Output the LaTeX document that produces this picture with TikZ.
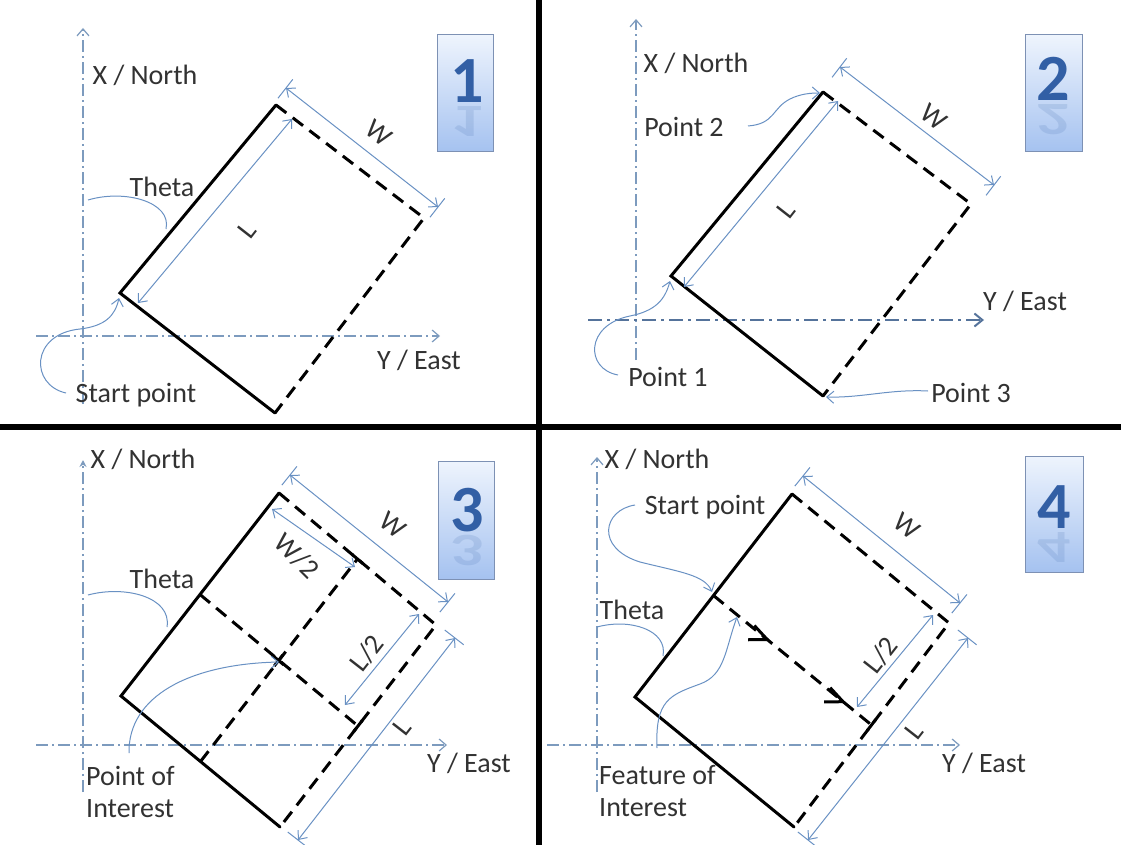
\documentclass[tikz,border=0pt]{standalone}
\usepackage{fontspec}
\setmainfont{Carlito}
\usetikzlibrary{calc,arrows.meta}
\definecolor{dimblue}{RGB}{105,145,195}
\definecolor{axisblue}{RGB}{125,155,190}
\definecolor{axisdark}{RGB}{85,115,155}
\definecolor{txtgray}{RGB}{50,50,50}
\definecolor{boxtop}{RGB}{238,244,253}
\definecolor{boxbot}{RGB}{165,194,240}
\definecolor{boxedge}{RGB}{125,145,180}
\definecolor{digitcol}{RGB}{50,95,165}
\tikzset{
  lbl/.style={font=\fontsize{28}{32}\selectfont, text=txtgray, inner sep=0pt},
  digit/.style={font=\fontsize{66}{66}\selectfont\bfseries, text=digitcol, inner sep=0pt, anchor=base},
  edgesolid/.style={line width=3pt, line cap=round},
  edgedash/.style={line width=3pt, dash pattern=on 13pt off 8pt},
  marktick/.style={line width=3pt},
  dim/.style={draw=dimblue, line width=1pt, {Straight Barb[length=7pt,width=12pt]}-{Straight Barb[length=7pt,width=12pt]}},
  ext/.style={draw=dimblue, line width=1pt},
  callout/.style={draw=dimblue, line width=1pt, -{Straight Barb[length=7pt,width=12pt]}},
  axisline/.style={draw=axisblue, line width=1.2pt, dash pattern=on 12pt off 4pt on 2pt off 4pt, -{Straight Barb[length=7pt,width=12pt]}},
  axisbold/.style={draw=axisdark, line width=2pt, dash pattern=on 14pt off 5pt on 3pt off 5pt, -{Straight Barb[length=8pt,width=13pt]}},
  numbox/.style={top color=boxtop, bottom color=boxbot, draw=boxedge, line width=1pt},
  divider/.style={line width=6pt, black}
}
\newcommand\ExtTicks[2]{%
  \draw[ext] ($(#1)!-13pt!90:(#2)$) -- ($(#1)!11pt!90:(#2)$);
  \draw[ext] ($(#2)!-13pt!-90:(#1)$) -- ($(#2)!11pt!-90:(#1)$);
}
\newcommand\QuadBox[5]{% corner1, corner2, digit base point, digit, name
  \shade[numbox] #1 rectangle #2;
  \begin{scope}
    \clip #1 rectangle #2;
    \node[digit, opacity=0.14, yscale=-0.7] at ($#3+(0,4)$) {#4};
  \end{scope}
  \node[digit] (#5) at #3 {#4};
}
\begin{document}
\begin{tikzpicture}[x=1pt,y=-1pt]
\useasboundingbox (0,0) rectangle (1121,845);

% dividers
\coordinate (dvt) at (539,0); \coordinate (dvb) at (539,845);
\coordinate (dhl) at (0,427); \coordinate (dhr) at (1121,427);
\draw[divider] (dvt) -- (dvb);
\draw[divider] (dhl) -- (dhr);

%================ Quadrant 1
\coordinate (A1) at (120,293);
\coordinate (B1) at (276,105);
\coordinate (C1) at (275,413);
\coordinate (D1) at (424,218);
\coordinate (v1s) at (83,404); \coordinate (v1e) at (83,28);
\coordinate (h1s) at (36,336); \coordinate (h1e) at (440,336);
\draw[axisline] (v1s) -- (v1e);
\draw[axisline] (h1s) -- (h1e);
\node[lbl] (xn1) at (145,75) {X / North};
\node[lbl] (ye1) at (419,360) {Y / East};
\draw[edgesolid] (B1) -- (A1) -- (C1);
\draw[edgedash] (B1) -- (D1) -- (C1);
\coordinate (w1s) at (286,88); \coordinate (w1e) at (438,207);
\draw[dim] (w1s) -- (w1e);
\ExtTicks{w1s}{w1e}
\coordinate (l1s) at (138,303); \coordinate (l1e) at (292,119);
\draw[dim] (l1s) -- (l1e);
\node[lbl, rotate=-38] (wl1) at (379,133) {W};
\node[lbl, rotate=52] (ll1) at (247,230) {L};
\node[lbl] (th1) at (162,187) {Theta};
\coordinate (ta1) at (88,200); \coordinate (tb1) at (166,229);
\draw[ext] (ta1) .. controls (125,189) and (172,202) .. (tb1);
\node[lbl] (sp1) at (136,395) {Start point};
\coordinate (sc1) at (66,393); \coordinate (st1) at (119,298);
\draw[callout] (sc1) .. controls (30,385) and (30,334) .. (80,329) .. controls (105,326) and (115,316) .. (st1);
\QuadBox{(437,35)}{(493,152)}{(467,103)}{1}{n1}

%================ Quadrant 2
\coordinate (A2) at (671,276);
\coordinate (B2) at (823,92);
\coordinate (C2) at (823,396);
\coordinate (D2) at (971,204);
\coordinate (v2s) at (636,360); \coordinate (v2e) at (636,19);
\coordinate (h2s) at (588,320); \coordinate (h2e) at (984,320);
\draw[axisline] (v2s) -- (v2e);
\draw[axisbold] (h2s) -- (h2e);
\node[lbl] (xn2) at (696,63) {X / North};
\node[lbl] (ye2) at (1025,301) {Y / East};
\draw[edgesolid] (B2) -- (A2) -- (C2);
\draw[edgedash] (B2) -- (D2) -- (C2);
\coordinate (w2s) at (840,67); \coordinate (w2e) at (994,185);
\draw[dim] (w2s) -- (w2e);
\ExtTicks{w2s}{w2e}
\coordinate (l2s) at (684,287); \coordinate (l2e) at (838,101);
\draw[dim] (l2s) -- (l2e);
\node[lbl, rotate=-38] (wl2) at (934,117) {W};
\node[lbl, rotate=52] (ll2) at (786,210) {L};
\node[lbl] (p2) at (684,127) {Point 2};
\coordinate (p2c) at (748,126); \coordinate (p2t) at (820,93);
\draw[callout] (p2c) .. controls (775,124) and (772,108) .. (790,99) .. controls (800,94) and (810,93) .. (p2t);
\node[lbl] (p1) at (668,377) {Point 1};
\coordinate (p1c) at (618,375); \coordinate (p1t) at (670,281);
\draw[callout] (p1c) .. controls (585,369) and (585,325) .. (630,316) .. controls (655,311) and (665,300) .. (p1t);
\node[lbl] (p3) at (971,393) {Point 3};
\coordinate (p3c) at (928,391); \coordinate (p3t) at (826,397);
\draw[callout] (p3c) .. controls (890,389) and (862,398) .. (p3t);
\QuadBox{(1025,35)}{(1082,152)}{(1053,101)}{2}{n2}

%================ Quadrant 3
\coordinate (A3) at (121,696);
\coordinate (B3) at (279,493);
\coordinate (C3) at (280,827);
\coordinate (D3) at (436,625);
\coordinate (v3s) at (83,792); \coordinate (v3e) at (83,460);
\coordinate (h3s) at (36,745); \coordinate (h3e) at (447,745);
\draw[axisline, -{Stealth[length=7pt,width=7pt]}] (v3s) -- (v3e);
\draw[axisline] (h3s) -- (h3e);
\node[lbl] (xn3) at (143,459) {X / North};
\node[lbl] (ye3) at (469,763) {Y / East};
\draw[edgesolid] (B3) -- (A3) -- (C3);
\draw[edgedash] (B3) -- (D3) -- (C3);
\coordinate (mAB3) at ($(A3)!0.5!(B3)$);
\coordinate (mAC3) at ($(A3)!0.5!(C3)$);
\coordinate (mBD3) at ($(B3)!0.5!(D3)$);
\coordinate (mCD3) at ($(C3)!0.5!(D3)$);
\coordinate (ctr3) at ($(A3)!0.5!(D3)$);
\draw[edgedash] (mAB3) -- (mCD3);
\draw[edgedash] (mAC3) -- (mBD3);
\draw[marktick] ($(mBD3)!7pt!(B3)$) -- ($(mBD3)!7pt!(D3)$);
\draw[marktick] ($(mCD3)!7pt!(C3)$) -- ($(mCD3)!7pt!(D3)$);
\draw[marktick] ($(ctr3)!7pt!(mAB3)$) -- ($(ctr3)!7pt!(mCD3)$);
\draw[marktick] ($(ctr3)!7pt!(mAC3)$) -- ($(ctr3)!7pt!(mBD3)$);
\coordinate (w3s) at (290,475); \coordinate (w3e) at (448,602);
\draw[dim] (w3s) -- (w3e);
\ExtTicks{w3s}{w3e}
\coordinate (hw3s) at (272,509); \coordinate (hw3e) at (355,567);
\draw[dim] (hw3s) -- (hw3e);
\coordinate (hl3s) at (345,705); \coordinate (hl3e) at (419,614);
\draw[dim] (hl3s) -- (hl3e);
\coordinate (l3s) at (455,638); \coordinate (l3e) at (298,840);
\draw[dim] (l3s) -- (l3e);
\ExtTicks{l3s}{l3e}
\node[lbl, rotate=-38] (wl3) at (393,525) {W};
\node[lbl, rotate=-45] (hwl3) at (297,556) {W/2};
\node[lbl, rotate=52] (hll3) at (367,653) {L/2};
\node[lbl, rotate=52] (ll3) at (402,727) {L};
\node[lbl] (th3) at (162,579) {Theta};
\coordinate (ta3) at (88,595); \coordinate (tb3) at (167,627);
\draw[ext] (ta3) .. controls (125,585) and (172,597) .. (tb3);
\node[lbl, anchor=west] (poi3a) at (86,776) {Point of};
\node[lbl, anchor=west] (poi3b) at (86,809) {Interest};
\coordinate (pc3) at (129,753); \coordinate (pt3) at (279,662);
\draw[callout] (pc3) .. controls (128,696) and (190,664) .. (pt3);
\QuadBox{(438,461)}{(494,579)}{(467,531)}{3}{n3}

%================ Quadrant 4
\coordinate (A4) at (635,697);
\coordinate (B4) at (792,494);
\coordinate (C4) at (794,827);
\coordinate (D4) at (949,623);
\coordinate (v4s) at (597,792); \coordinate (v4e) at (597,457);
\coordinate (h4s) at (547,745); \coordinate (h4e) at (960,745);
\draw[axisline] (v4s) -- (v4e);
\draw[axisline] (h4s) -- (h4e);
\node[lbl] (xn4) at (657,459) {X / North};
\node[lbl] (ye4) at (984,763) {Y / East};
\draw[edgesolid] (B4) -- (A4) -- (C4);
\draw[edgedash] (B4) -- (D4) -- (C4);
\coordinate (mAB4) at ($(A4)!0.5!(B4)$);
\coordinate (mCD4) at ($(C4)!0.5!(D4)$);
\draw[edgedash] (mAB4) -- (mCD4);
\draw[marktick] ($(mCD4)!7pt!(C4)$) -- ($(mCD4)!7pt!(D4)$);
\coordinate (ch4a) at ($(mAB4)!0.34!(mCD4)$);
\coordinate (ch4b) at ($(mAB4)!0.82!(mCD4)$);
\draw[marktick, line join=miter] ($(ch4a)!19pt!172:(mCD4)$) -- (ch4a) -- ($(ch4a)!19pt!-140:(mCD4)$);
\draw[marktick, line join=miter] ($(ch4b)!19pt!172:(mCD4)$) -- (ch4b) -- ($(ch4b)!19pt!-140:(mCD4)$);
\coordinate (w4s) at (803,476); \coordinate (w4e) at (960,603);
\draw[dim] (w4s) -- (w4e);
\ExtTicks{w4s}{w4e}
\coordinate (hl4s) at (857,707); \coordinate (hl4e) at (933,615);
\draw[dim] (hl4s) -- (hl4e);
\coordinate (l4s) at (968,638); \coordinate (l4e) at (808,840);
\draw[dim] (l4s) -- (l4e);
\ExtTicks{l4s}{l4e}
\node[lbl, rotate=-38] (wl4) at (907,526) {W};
\node[lbl, rotate=52] (hll4) at (881,655) {L/2};
\node[lbl, rotate=52] (ll4) at (914,731) {L};
\node[lbl] (sp4) at (705,507) {Start point};
\coordinate (sc4) at (635,505); \coordinate (st4) at (712,592);
\draw[callout] (sc4) .. controls (603,510) and (595,548) .. (640,562) .. controls (680,572) and (705,575) .. (st4);
\node[lbl] (th4) at (632,610) {Theta};
\coordinate (ta4) at (597,627); \coordinate (tb4) at (663,656);
\draw[ext] (ta4) .. controls (630,618) and (668,630) .. (tb4);
\node[lbl, anchor=west] (fi4a) at (599,775) {Feature of};
\node[lbl, anchor=west] (fi4b) at (599,808) {Interest};
\coordinate (fc4) at (657,748); \coordinate (ft4) at (737,617);
\draw[callout] (fc4) .. controls (655,700) and (670,695) .. (700,684) .. controls (725,675) and (725,650) .. (ft4);
\QuadBox{(1025,456)}{(1083,572)}{(1054,528)}{4}{n4}
\end{tikzpicture}
\end{document}
